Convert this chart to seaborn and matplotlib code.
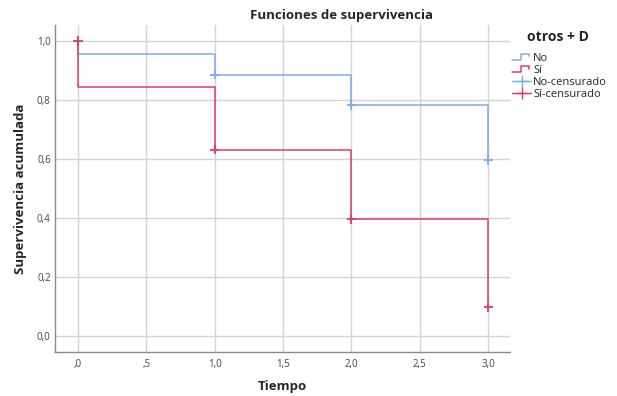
import numpy as np
import pandas as pd
import matplotlib
matplotlib.use('Agg')
import matplotlib.pyplot as plt
from matplotlib.lines import Line2D
from matplotlib.legend_handler import HandlerBase
import seaborn as sns

# survival curves (time, cumulative survival)
tiempo_no = [0, 0, 1, 2, 3]
surv_no = [1.0, 0.956, 0.886, 0.783, 0.596]
tiempo_si = [0, 0, 1, 2, 3]
surv_si = [1.0, 0.843, 0.632, 0.395, 0.098]

# censored points
cens_no_t = [1, 2, 3]
cens_no_s = [0.886, 0.783, 0.596]
cens_si_t = [0, 1, 2, 3]
cens_si_s = [1.0, 0.632, 0.395, 0.098]

xticks = [0, 0.5, 1.0, 1.5, 2.0, 2.5, 3.0]
xticklabels = [',0', ',5', '1,0', '1,5', '2,0', '2,5', '3,0']
yticks = [0, 0.2, 0.4, 0.6, 0.8, 1.0]
yticklabels = ['0,0', '0,2', '0,4', '0,6', '0,8', '1,0']

BLUE = '#79acec'
RED = '#e23a6a'

sns.set_style('white')
plt.rcParams['font.family'] = ['Open Sans', 'DejaVu Sans']

curves = pd.DataFrame({
    'Tiempo': tiempo_no + tiempo_si,
    'surv': surv_no + surv_si,
    'grupo': ['No'] * len(tiempo_no) + ['Sí'] * len(tiempo_si),
})
cens = pd.DataFrame({
    'Tiempo': cens_no_t + cens_si_t,
    'surv': cens_no_s + cens_si_s,
    'grupo': ['No'] * len(cens_no_t) + ['Sí'] * len(cens_si_t),
})

fig = plt.figure(figsize=(6.17, 3.96), dpi=100)
ax = fig.add_axes([0.089, 0.111, 0.738, 0.826])

sns.lineplot(data=curves, x='Tiempo', y='surv', hue='grupo', palette={'No': BLUE, 'Sí': RED},
             estimator=None, sort=False, drawstyle='steps-post', linewidth=1.1,
             legend=False, ax=ax, zorder=3)
sns.scatterplot(data=cens, x='Tiempo', y='surv', hue='grupo', palette={'No': BLUE, 'Sí': RED},
                marker='+', s=45, linewidth=1.3, legend=False, ax=ax, zorder=4)

ax.set_xlim(-0.168, 3.161)
ax.set_ylim(-0.054, 1.054)
ax.set_xticks(xticks)
ax.set_xticklabels(xticklabels)
ax.set_yticks(yticks)
ax.set_yticklabels(yticklabels)
ax.tick_params(axis='both', labelsize=7, colors='#444444', length=0)
ax.tick_params(axis='x', pad=5)
ax.tick_params(axis='y', pad=3)
ax.grid(True, color='#d4d4d4', linewidth=1)
ax.set_axisbelow(True)
for s in ['top', 'right']:
    ax.spines[s].set_visible(False)
for s in ['left', 'bottom']:
    ax.spines[s].set_color('#8a8a8a')
    ax.spines[s].set_linewidth(1)

ax.set_xlabel('Tiempo', fontsize=9.5, fontweight='bold', labelpad=7)
ax.set_ylabel('Supervivencia acumulada', fontsize=9.5, fontweight='bold', labelpad=7)
fig.text(0.553, 0.962, 'Funciones de supervivencia', ha='center', va='center',
         fontsize=9.5, fontweight='bold')


class StepHandler(HandlerBase):
    def create_artists(self, legend, orig_handle, xdescent, ydescent, width, height, fontsize, trans):
        x = [0, width * 0.45, width * 0.45, width * 0.9, width * 0.9]
        y = [height * 0.15, height * 0.15, height * 0.85, height * 0.85, height * 0.55]
        ln = Line2D(x, y, color=orig_handle.get_color(), linewidth=1.1, transform=trans)
        return [ln]


h_no = Line2D([], [], color=BLUE)
h_si = Line2D([], [], color=RED)
h_cno = Line2D([0], [0], color=BLUE, marker='+', markersize=9, linewidth=1)
h_csi = Line2D([0], [0], color=RED, marker='+', markersize=9, linewidth=1)
leg = fig.legend([h_no, h_si, h_cno, h_csi], ['No', 'Sí', 'No-censurado', 'Sí-censurado'],
                 handler_map={h_no: StepHandler(), h_si: StepHandler()},
                 loc='upper left', bbox_to_anchor=(0.830, 0.867), frameon=False,
                 fontsize=8, handlelength=1.7, handletextpad=0.2,
                 labelspacing=0.1, borderaxespad=0, borderpad=0)
fig.text(0.905, 0.907, 'otros + D', ha='center', va='center',
         fontsize=10, fontweight='bold')

fig.savefig('out.png', dpi=100)
